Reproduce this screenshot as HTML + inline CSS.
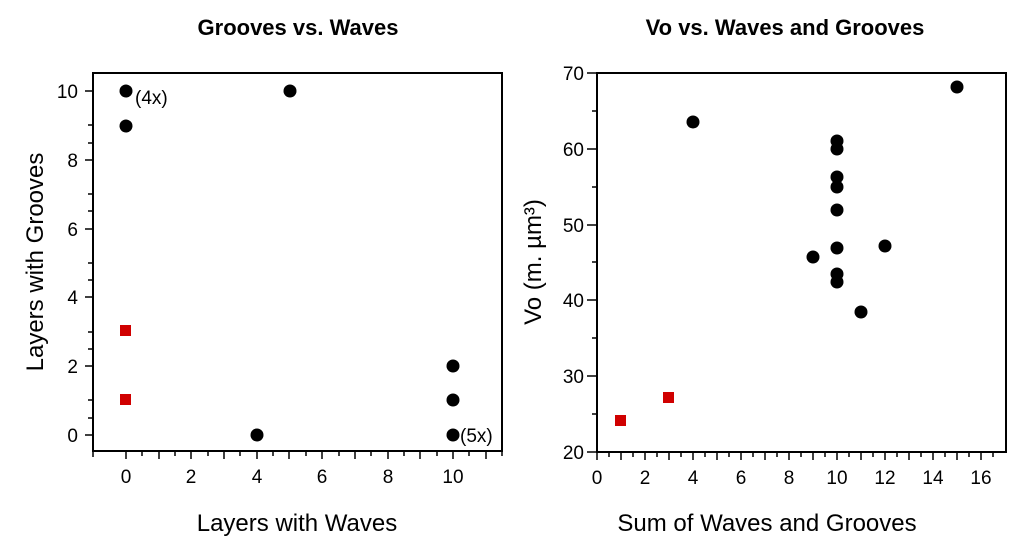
<!DOCTYPE html><html><head><style>body{margin:0;background:#fff}</style></head><body>
<svg width="1024" height="539" xmlns="http://www.w3.org/2000/svg" font-family="Liberation Sans, Arial, sans-serif">
<rect width="1024" height="539" fill="#fff"/>
<text x="298" y="35" text-anchor="middle" font-size="22" font-weight="bold">Grooves vs. Waves</text>
<text x="785" y="35" text-anchor="middle" font-size="22" font-weight="bold">Vo vs. Waves and Grooves</text>
<g stroke="#000" stroke-width="2" fill="none">
<rect x="93" y="73" width="409" height="378"/>
<rect x="597" y="73" width="409" height="379"/>
</g>
<g stroke="#000" stroke-width="1.5">
<path d="M93 451v6M126 451v8M142 451v5M159 451v8M175 451v5M191 451v8M208 451v5M224 451v8M240 451v5M257 451v8M273 451v5M289 451v8M306 451v5M322 451v8M339 451v5M355 451v8M371 451v5M388 451v8M404 451v5M420 451v8M437 451v5M453 451v8M469 451v5M486 451v8M502 451v5"/>
<path d="M93 435h-8M93 418h-5M93 366h-8M93 349h-5M93 297h-8M93 280h-5M93 229h-8M93 211h-5M93 160h-8M93 143h-5M93 91h-8M93 400h-5M93 332h-5M93 263h-5M93 194h-5M93 125h-5"/>
<path d="M597 452v8M609 452v5M621 452v8M633 452v5M645 452v8M657 452v5M669 452v8M681 452v5M693 452v8M705 452v5M717 452v8M729 452v5M741 452v8M753 452v5M765 452v8M777 452v5M789 452v8M801 452v5M813 452v8M825 452v5M837 452v8M849 452v5M861 452v8M873 452v5M885 452v8M897 452v5M909 452v8M921 452v5M933 452v8M945 452v5M957 452v8M969 452v5M981 452v8M993 452v5"/>
<path d="M597 452h-10M597 414h-5M597 376h-10M597 338h-5M597 300h-10M597 262h-5M597 225h-10M597 187h-5M597 149h-10M597 111h-5M597 73h-10"/>
</g>
<g font-size="19" fill="#000">
<g text-anchor="end">
<text x="78" y="442">0</text><text x="78" y="373">2</text><text x="78" y="304">4</text><text x="78" y="236">6</text><text x="78" y="167">8</text><text x="78" y="98">10</text>
<text x="584" y="459">20</text><text x="584" y="383">30</text><text x="584" y="307">40</text><text x="584" y="232">50</text><text x="584" y="156">60</text><text x="584" y="80">70</text>
</g>
<g text-anchor="middle">
<text x="126" y="483">0</text><text x="191" y="483">2</text><text x="257" y="483">4</text><text x="322" y="483">6</text><text x="388" y="483">8</text><text x="453" y="483">10</text>
<text x="597" y="484">0</text><text x="645" y="484">2</text><text x="693" y="484">4</text><text x="741" y="484">6</text><text x="789" y="484">8</text><text x="837" y="484">10</text><text x="885" y="484">12</text><text x="933" y="484">14</text><text x="981" y="484">16</text>
</g>
<text x="135" y="104">(4x)</text>
<text x="460" y="442">(5x)</text>
</g>
<g font-size="24" fill="#000" text-anchor="middle">
<text x="297" y="531">Layers with Waves</text>
<text x="767" y="531">Sum of Waves and Grooves</text>
<text transform="translate(43,262) rotate(-90)">Layers with Grooves</text>
<text transform="translate(541,262) rotate(-90)">Vo (m. µm³)</text>
</g>
<g fill="#000">
<circle cx="126" cy="91" r="6.5"/><circle cx="126" cy="126" r="6.5"/><circle cx="290" cy="91" r="6.5"/>
<circle cx="257" cy="435" r="6.5"/><circle cx="453" cy="366" r="6.5"/><circle cx="453" cy="400" r="6.5"/><circle cx="453" cy="435" r="6.5"/>
<circle cx="693" cy="122" r="6.5"/><circle cx="957" cy="87" r="6.5"/>
<circle cx="837" cy="141" r="6.5"/><circle cx="837" cy="149" r="6.5"/><circle cx="837" cy="177" r="6.5"/><circle cx="837" cy="187" r="6.5"/><circle cx="837" cy="210" r="6.5"/><circle cx="837" cy="248" r="6.5"/><circle cx="837" cy="274" r="6.5"/><circle cx="837" cy="282" r="6.5"/>
<circle cx="813" cy="257" r="6.5"/><circle cx="885" cy="246" r="6.5"/><circle cx="861" cy="312" r="6.5"/>
</g>
<g fill="#d00000">
<rect x="120" y="325" width="11" height="11"/><rect x="120" y="394" width="11" height="11"/>
<rect x="615" y="415" width="11" height="11"/><rect x="663" y="392" width="11" height="11"/>
</g>
</svg>
</body></html>
